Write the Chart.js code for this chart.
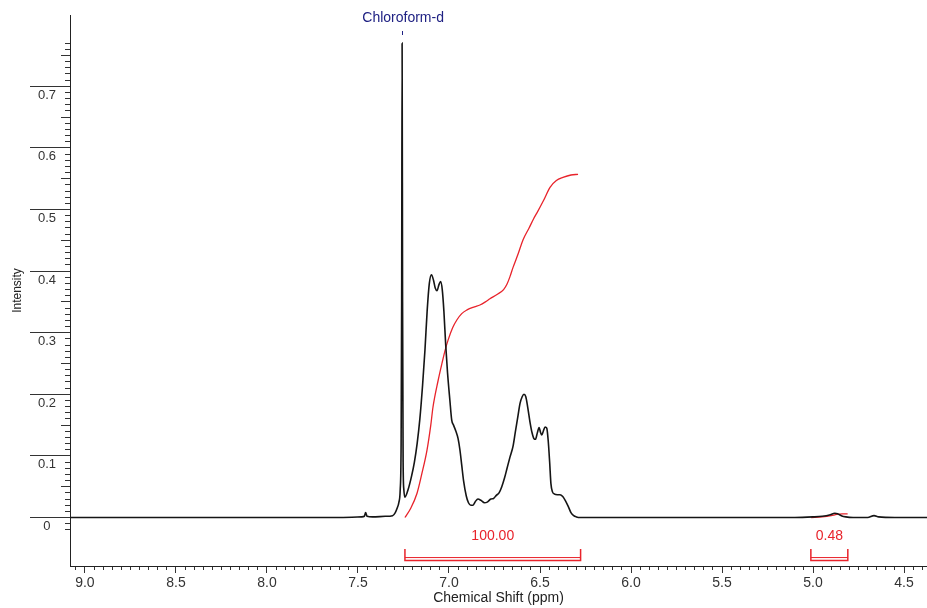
<!DOCTYPE html>
<html>
<head>
<meta charset="utf-8">
<script src="https://cdn.jsdelivr.net/npm/chart.js@4.4.0/dist/chart.umd.min.js"></script>
<style>
  html, body { margin: 0; padding: 0; background: #fff; }
  #wrap { width: 927px; height: 608px; }
</style>
</head>
<body>
<div id="wrap"><canvas id="nmr"></canvas></div>
<script>
// 1H spectrum (ppm / intensity)
const shiftPpm = [
  9.08, 8.50, 8.00, 7.60, 7.48, 7.465, 7.458, 7.45, 7.42, 7.35, 7.31, 7.295, 7.285, 7.275, 7.268, 7.263,
  7.26, 7.2575, 7.255, 7.252, 7.248, 7.242, 7.225, 7.205, 7.19, 7.175, 7.16, 7.145, 7.132, 7.12, 7.108,
  7.096, 7.085, 7.075, 7.066, 7.055, 7.046, 7.037, 7.028, 7.018, 7.008, 6.995, 6.985, 6.975, 6.962,
  6.95, 6.94, 6.93, 6.92, 6.905, 6.893, 6.88, 6.868, 6.855, 6.841, 6.825, 6.805, 6.79, 6.77, 6.755,
  6.74, 6.725, 6.71, 6.695, 6.681, 6.665, 6.648, 6.635, 6.621, 6.61, 6.598, 6.588, 6.578, 6.567,
  6.555, 6.544, 6.533, 6.525, 6.515, 6.505, 6.497, 6.49, 6.482, 6.472, 6.463, 6.455, 6.447, 6.44,
  6.432, 6.42, 6.405, 6.39, 6.375, 6.36, 6.345, 6.33, 6.315, 6.30, 6.28, 6.00, 5.50, 5.10, 5.00,
  4.95, 4.91, 4.88, 4.865, 4.845, 4.82, 4.78, 4.70, 4.665, 4.64, 4.55, 4.374
];
const intensity = [
  0.000, 0.000, 0.000, 0.000, 0.001, 0.002, 0.008, 0.002, 0.001, 0.002, 0.003, 0.008, 0.015, 0.025, 0.045, 0.12,
  0.35, 0.77, 0.35, 0.09, 0.045, 0.033, 0.045, 0.068, 0.09, 0.12, 0.16, 0.215, 0.272, 0.335, 0.38,
  0.394, 0.385, 0.372, 0.368, 0.378, 0.383, 0.37, 0.335, 0.28, 0.235, 0.19, 0.158, 0.15, 0.14,
  0.128, 0.11, 0.085, 0.06, 0.035, 0.024, 0.02, 0.02, 0.026, 0.03, 0.028, 0.024, 0.025, 0.03, 0.031,
  0.036, 0.04, 0.05, 0.064, 0.08, 0.098, 0.116, 0.14, 0.165, 0.185, 0.196, 0.2, 0.196, 0.178,
  0.155, 0.138, 0.128, 0.127, 0.137, 0.146, 0.138, 0.134, 0.14, 0.147, 0.145, 0.125, 0.09, 0.055,
  0.042, 0.038, 0.037, 0.037, 0.034, 0.027, 0.018, 0.008, 0.003, 0.001, 0.000, 0.000, 0.000, 0.000, 0.001,
  0.002, 0.004, 0.007, 0.006, 0.003, 0.001, 0.000, 0.000, 0.003, 0.001, 0.000, 0.000
];

// integral curves (red)
const integralPpm = [
  7.242, 7.21, 7.176, 7.15, 7.121, 7.10, 7.088, 7.06, 7.038, 7.02, 7.005, 6.98, 6.956, 6.93, 6.901,
  6.86, 6.83, 6.80, 6.775, 6.736, 6.70, 6.681, 6.665, 6.648, 6.62, 6.593, 6.56, 6.535, 6.516, 6.48,
  6.445, 6.41, 6.374, 6.33, 6.291
];
const integralValue = [
  0.000, 0.015, 0.039, 0.07, 0.109, 0.150, 0.179, 0.222, 0.251, 0.273, 0.288, 0.308, 0.321, 0.331, 0.337,
  0.342, 0.345, 0.350, 0.355, 0.362, 0.370, 0.379, 0.391, 0.406, 0.428, 0.451, 0.470, 0.485, 0.495, 0.515,
  0.536, 0.547, 0.552, 0.556, 0.557
];
const integral2Ppm = [5.01, 4.95, 4.90, 4.87, 4.84, 4.81];
const integral2Value = [0.000, 0.001, 0.003, 0.005, 0.006, 0.006];

// integration ranges + values
const bracketFrom = [7.242, 5.012];
const bracketTo = [6.277, 4.809];
const bracketLabels = ['100.00', '0.48'];

const solventPpm = 7.2575;
const solventLabel = 'Chloroform-d';

// axis ticks
const xTicks = [9.0, 8.5, 8.0, 7.5, 7.0, 6.5, 6.0, 5.5, 5.0, 4.5];
const xTickLabels = ['9.0', '8.5', '8.0', '7.5', '7.0', '6.5', '6.0', '5.5', '5.0', '4.5'];
const yTicks = [0, 0.1, 0.2, 0.3, 0.4, 0.5, 0.6, 0.7];
const yTickLabels = ['0', '0.1', '0.2', '0.3', '0.4', '0.5', '0.6', '0.7'];

const X_MIN = 4.374, X_MAX = 9.082;
const Y_MIN = -0.0787, Y_MAX = 0.8157;
const BR_TOP = -0.051, BR_LOW = -0.0698, BR_HIGH = -0.065, BR_TEXT = -0.030;
const RED = '#e8232b';

Chart.defaults.font.family = '"Liberation Sans", Arial, sans-serif';
Chart.defaults.color = '#333';

function pts(xs, ys) {
  return xs.map((x, i) => ({ x: x, y: ys[i] }));
}

const datasets = [
  {
    label: 'spectrum', data: pts(shiftPpm, intensity),
    borderColor: '#151515', borderWidth: 1.6, cubicInterpolationMode: 'monotone'
  },
  {
    label: 'integral', data: pts(integralPpm, integralValue),
    borderColor: RED, borderWidth: 1.3, cubicInterpolationMode: 'monotone'
  },
  {
    label: 'integral2', data: pts(integral2Ppm, integral2Value),
    borderColor: RED, borderWidth: 1.3, cubicInterpolationMode: 'monotone'
  }
];
bracketFrom.forEach((from, i) => {
  const to = bracketTo[i];
  datasets.push({
    label: 'bracket' + i,
    data: [{ x: from, y: BR_TOP }, { x: from, y: BR_LOW }, { x: to, y: BR_LOW }, { x: to, y: BR_TOP }],
    borderColor: RED, borderWidth: 1.5
  });
  datasets.push({
    label: 'bracketB' + i,
    data: [{ x: from, y: BR_HIGH }, { x: to, y: BR_HIGH }],
    borderColor: RED, borderWidth: 1
  });
});

// text labels: solvent name + integral values
const labelPlugin = {
  id: 'nmrLabels',
  afterDraw(chart) {
    const ctx = chart.ctx, xs = chart.scales.x, ys = chart.scales.y;
    ctx.save();
    ctx.textAlign = 'center';
    ctx.textBaseline = 'middle';
    ctx.font = '14px "Liberation Sans", Arial, sans-serif';
    ctx.fillStyle = RED;
    bracketLabels.forEach((txt, i) => {
      const px = xs.getPixelForValue((bracketFrom[i] + bracketTo[i]) / 2);
      ctx.fillText(txt, px, ys.getPixelForValue(BR_TEXT));
    });
    const sx = xs.getPixelForValue(solventPpm);
    ctx.fillStyle = '#1f2183';
    ctx.fillText(solventLabel, sx + 1, 18);
    ctx.strokeStyle = '#1f2183';
    ctx.lineWidth = 1;
    ctx.beginPath();
    ctx.moveTo(Math.round(sx) + 0.5, 31);
    ctx.lineTo(Math.round(sx) + 0.5, 35);
    ctx.stroke();
    ctx.restore();
  }
};

function keepRange(lo, hi) {
  return function (s) { s.ticks = s.ticks.filter(t => t.value >= lo && t.value <= hi); };
}

new Chart(document.getElementById('nmr'), {
  type: 'scatter',
  data: { datasets: datasets },
  options: {
    responsive: true,
    maintainAspectRatio: false,
    animation: false,
    showLine: true,
    elements: { point: { radius: 0, hoverRadius: 0 }, line: { fill: false } },
    layout: { padding: { top: 15, right: 0, bottom: 0, left: 0 } },
    plugins: { legend: { display: false }, tooltip: { enabled: false } },
    scales: {
      x: {
        type: 'linear', position: 'bottom', reverse: true, min: X_MIN, max: X_MAX, weight: 1,
        grid: { drawOnChartArea: false, tickLength: 7, color: '#333' },
        border: { display: true, color: '#222' },
        ticks: {
          autoSkip: false, maxRotation: 0, padding: 2, color: '#333', font: { size: 14 },
          callback: (v, i) => xTickLabels[i]
        },
        afterBuildTicks: s => { s.ticks = xTicks.map(v => ({ value: v })); },
        afterFit: s => { s.height = 42; },
        title: {
          display: true, text: 'Chemical Shift (ppm)', color: '#222',
          font: { size: 14 }, padding: { top: 0, bottom: 1 }
        }
      },
      xMinor: {
        type: 'linear', position: 'bottom', reverse: true, min: X_MIN, max: X_MAX, weight: 0,
        grid: { drawOnChartArea: false, tickLength: 4, color: '#333' },
        border: { display: false },
        ticks: { display: false, stepSize: 0.05, autoSkip: false, includeBounds: false },
        afterFit: s => { s.height = 0; }
      },
      y: {
        type: 'linear', position: 'left', min: Y_MIN, max: Y_MAX, weight: 3,
        grid: { drawOnChartArea: false, tickLength: 40, color: '#333' },
        border: { display: true, color: '#222' },
        ticks: {
          crossAlign: 'center', padding: -26, labelOffset: 9, color: '#333', font: { size: 13 },
          autoSkip: false, callback: (v, i) => yTickLabels[i]
        },
        afterBuildTicks: s => { s.ticks = yTicks.map(v => ({ value: v })); },
        afterFit: s => { s.width = 70; },
        title: {
          display: true, text: 'Intensity', color: '#222',
          font: { size: 12 }, padding: { top: 10, bottom: 0 }
        }
      },
      yMid: {
        type: 'linear', position: 'left', min: Y_MIN, max: Y_MAX, weight: 1,
        grid: { drawOnChartArea: false, tickLength: 9, color: '#333' },
        border: { display: false },
        ticks: { display: false, stepSize: 0.05, autoSkip: false, includeBounds: false },
        afterBuildTicks: keepRange(-0.001, 0.76),
        afterFit: s => { s.width = 0; }
      },
      yMinor: {
        type: 'linear', position: 'left', min: Y_MIN, max: Y_MAX, weight: 0,
        grid: { drawOnChartArea: false, tickLength: 5, color: '#333' },
        border: { display: false },
        ticks: { display: false, stepSize: 0.01, autoSkip: false, includeBounds: false },
        afterBuildTicks: keepRange(-0.021, 0.775),
        afterFit: s => { s.width = 0; }
      }
    }
  },
  plugins: [labelPlugin]
});
</script>
</body>
</html>
